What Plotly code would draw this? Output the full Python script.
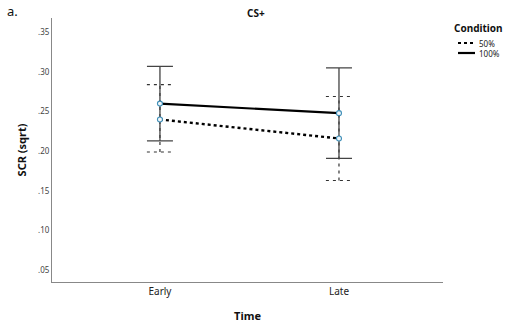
import plotly.graph_objects as go

# ---- data ----
time_labels = ["Early", "Late"]
cond_50_mean = [0.240, 0.216]
cond_50_lo = [0.199, 0.163]
cond_50_hi = [0.284, 0.269]
cond_100_mean = [0.260, 0.248]
cond_100_lo = [0.213, 0.191]
cond_100_hi = [0.307, 0.305]
y_tick_vals = [0.05, 0.10, 0.15, 0.20, 0.25, 0.30, 0.35]
y_tick_text = [".05", ".10", ".15", ".20", ".25", ".30", ".35"]

W, H = 520, 328
L, T = 52, 18
R = W - 443
B = H - 282
FONT = "Noto Sans"

xs = list(range(len(time_labels)))
cap = 0.073

fig = go.Figure()

# 50% error bars (dashed)
ex, ey = [], []
for xi, lo, hi in zip(xs, cond_50_lo, cond_50_hi):
    ex += [xi, xi, None, xi - cap, xi + cap, None, xi - cap, xi + cap, None]
    ey += [lo, hi, None, lo, lo, None, hi, hi, None]
fig.add_trace(go.Scatter(x=ex, y=ey, mode="lines", showlegend=False, hoverinfo="skip",
                         line=dict(color="#333333", width=1.2, dash="3px,4px")))

# 100% error bars (solid)
fig.add_trace(go.Scatter(
    x=xs, y=cond_100_mean, mode="markers", showlegend=False, hoverinfo="skip",
    marker=dict(size=1, color="rgba(0,0,0,0)"),
    error_y=dict(type="data", symmetric=False,
                 array=[h - m for h, m in zip(cond_100_hi, cond_100_mean)],
                 arrayminus=[m - l for m, l in zip(cond_100_mean, cond_100_lo)],
                 color="#444444", thickness=1.3, width=13)))

# lines
fig.add_trace(go.Scatter(x=xs, y=cond_50_mean, mode="lines+markers", name="50%",
                         line=dict(color="black", width=2.4, dash="dot"),
                         marker=dict(symbol="circle", size=5, color="rgba(240,246,250,1)",
                                     line=dict(color="#3f8fb8", width=1.1))))
fig.add_trace(go.Scatter(x=xs, y=cond_100_mean, mode="lines+markers", name="100%",
                         line=dict(color="black", width=2.2),
                         marker=dict(symbol="circle", size=5, color="rgba(240,246,250,1)",
                                     line=dict(color="#3f8fb8", width=1.1))))

pw = W - L - R
ph = H - T - B
def px(x):
    return (x - L) / pw
def py(y):
    return (H - B - y) / ph

annotations = [
    dict(text="a.", x=px(5), y=py(11), xref="paper", yref="paper", showarrow=False,
         xanchor="left", yanchor="middle", font=dict(size=13, color="#111", family=FONT)),
    dict(text="<b>CS+</b>", x=px(256), y=py(13), xref="paper", yref="paper", showarrow=False,
         xanchor="center", yanchor="middle", font=dict(size=10, color="#111", family=FONT)),
    dict(text="<b>Condition</b>", x=px(452), y=py(28), xref="paper", yref="paper", showarrow=False,
         xanchor="left", yanchor="middle", font=dict(size=10, color="#111", family=FONT)),
    dict(text="50%", x=px(477), y=py(43), xref="paper", yref="paper", showarrow=False,
         xanchor="left", yanchor="middle", font=dict(size=8, color="#222", family=FONT)),
    dict(text="100%", x=px(477), y=py(53), xref="paper", yref="paper", showarrow=False,
         xanchor="left", yanchor="middle", font=dict(size=8, color="#222", family=FONT)),
]
shapes = [
    dict(type="line", xref="paper", yref="paper", x0=px(458), x1=px(475), y0=py(43), y1=py(43),
         line=dict(color="black", width=2.2, dash="dot")),
    dict(type="line", xref="paper", yref="paper", x0=px(458), x1=px(475), y0=py(53), y1=py(53),
         line=dict(color="black", width=2.2)),
]

fig.update_layout(
    width=W, height=H,
    margin=dict(l=L, r=R, t=T, b=B),
    paper_bgcolor="white", plot_bgcolor="white",
    showlegend=False,
    font=dict(family=FONT, color="#222"),
    annotations=annotations, shapes=shapes,
    xaxis=dict(range=[-0.603, 1.581], tickvals=xs, ticktext=time_labels, automargin=False,
               showgrid=False, zeroline=False, showline=True, linecolor="#888", linewidth=1,
               ticks="", tickfont=dict(size=10, color="#222", family=FONT),
               title=dict(text="<b>Time</b>", font=dict(size=11, color="#111", family=FONT), standoff=15)),
    yaxis=dict(range=[0.035, 0.368], tickvals=y_tick_vals, ticktext=y_tick_text, automargin=False,
               showgrid=False, zeroline=False, showline=True, linecolor="#888", linewidth=1,
               ticks="", tickfont=dict(size=8, color="#444", family=FONT),
               title=dict(text="<b>SCR (sqrt)</b>", font=dict(size=11, color="#111", family=FONT), standoff=9)),
)

fig.write_html("out.html", config={"displayModeBar": False},
               post_script="document.body.style.margin='0px';")
